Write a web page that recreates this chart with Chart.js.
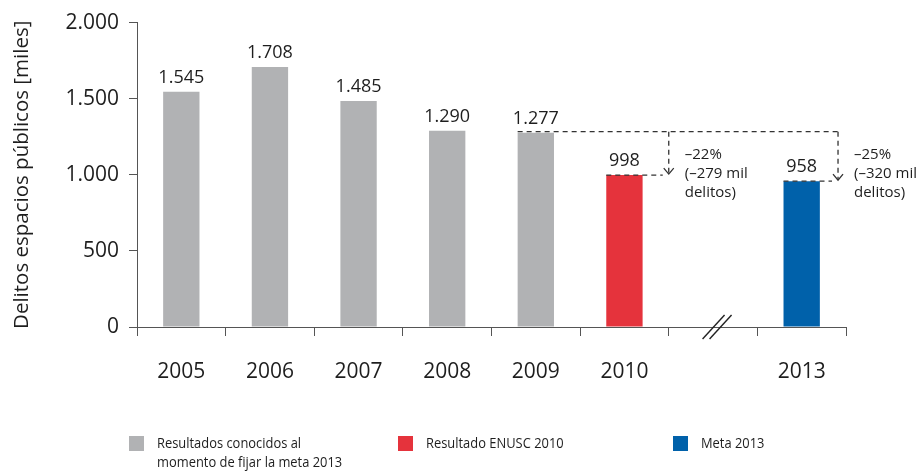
<!DOCTYPE html>
<html>
<head>
<meta charset="utf-8">
<script src="https://cdn.jsdelivr.net/npm/chart.js@4.4.0/dist/chart.umd.min.js"></script>
<style>
    html, body { margin: 0; padding: 0; background: #fff; }
    #wrap { position: relative; width: 921px; height: 471px; }
</style>
</head>
<body>
<div id="wrap"><canvas id="chart" width="921" height="471"></canvas></div>
<script>
const years = ['2005', '2006', '2007', '2008', '2009', '2010', '', '2013'];
const delitos = [1545, 1708, 1485, 1290, 1277, 998, null, 958];
const barGroup = ['known', 'known', 'known', 'known', 'known', 'enusc', null, 'goal'];
const yTicks = [0, 500, 1000, 1500, 2000];

const groupColors = { known: '#b1b2b4', enusc: '#e5333c', goal: '#0061aa' };
const legendItems = [
    { group: 'known', text: ['Resultados conocidos al', 'momento de fijar la meta 2013'] },
    { group: 'enusc', text: ['Resultado ENUSC 2010'] },
    { group: 'goal', text: ['Meta 2013'] }
];
const reductions = [
    { from: 4, to: 5, text: ['\u201322%', '(\u2013279 mil', 'delitos)'] },
    { from: 4, to: 7, text: ['\u201325%', '(\u2013320 mil', 'delitos)'] }
];

const FONT = '"Open Sans", sans-serif';
const TEXT = '#1e1e1e';

function miles(v) {
    return String(v).replace(/\B(?=(\d{3})+(?!\d))/g, '.');
}

// labels over bars, dashed reduction arrows, axis break and legend
const extras = {
    id: 'extras',
    afterDatasetsDraw(chart) {
        const ctx = chart.ctx;
        const x = chart.scales.x;
        const y = chart.scales.y;
        const bars = chart.getDatasetMeta(0).data;
        const catW = x.getPixelForValue(1) - x.getPixelForValue(0);

        ctx.save();
        ctx.fillStyle = TEXT;
        ctx.font = '18px ' + FONT;
        ctx.textAlign = 'center';
        ctx.textBaseline = 'bottom';
        delitos.forEach((v, i) => {
            if (v === null) return;
            ctx.fillText(miles(v), bars[i].x, bars[i].y - 5);
        });

        // dashed arrows
        ctx.strokeStyle = '#333';
        ctx.lineWidth = 1.3;
        ctx.setLineDash([5, 4]);
        const base = bars[4];
        const topY = y.getPixelForValue(delitos[4]) - 1;
        const arrowX = [
            (x.getPixelForValue(5) + x.getPixelForValue(6)) / 2,
            x.getPixelForValue(7) + catW * 0.41
        ];
        ctx.beginPath();
        ctx.moveTo(base.x - base.width / 2, topY);
        ctx.lineTo(arrowX[1], topY);
        ctx.stroke();
        reductions.forEach((r, k) => {
            const b = bars[r.to];
            const ax = arrowX[k];
            const endY = y.getPixelForValue(delitos[r.to]);
            ctx.setLineDash([5, 4]);
            ctx.beginPath();
            ctx.moveTo(ax, topY);
            ctx.lineTo(ax, endY - 2);
            ctx.moveTo(b.x - b.width / 2, endY);
            ctx.lineTo(ax - 6, endY);
            ctx.stroke();
            ctx.setLineDash([]);
            ctx.beginPath();
            ctx.moveTo(ax - 5, endY - 7);
            ctx.lineTo(ax, endY - 1);
            ctx.lineTo(ax + 5, endY - 7);
            ctx.stroke();

            ctx.font = '15px ' + FONT;
            ctx.textAlign = 'left';
            ctx.textBaseline = 'middle';
            r.text.forEach((t, j) => ctx.fillText(t, ax + 16, topY + 23 + j * 19));
        });

        // axis break
        ctx.setLineDash([]);
        ctx.strokeStyle = '#222';
        ctx.lineWidth = 1.4;
        const bx = x.getPixelForValue(6) + 4;
        const by = y.getPixelForValue(0);
        [-3.5, 3.5].forEach(d => {
            ctx.beginPath();
            ctx.moveTo(bx + d - 11, by + 12);
            ctx.lineTo(bx + d + 11, by - 12);
            ctx.stroke();
        });

        // legend
        const legX = [129, 398, 673];
        const legY = 436;
        legendItems.forEach((it, k) => {
            ctx.fillStyle = groupColors[it.group];
            ctx.fillRect(legX[k], legY, 15, 15);
            ctx.fillStyle = TEXT;
            ctx.font = '15px ' + FONT;
            ctx.textAlign = 'left';
            ctx.textBaseline = 'middle';
            it.text.forEach((t, j) => {
                ctx.save();
                ctx.translate(legX[k] + 28, legY + 8 + j * 19);
                ctx.scale(0.86, 1);
                ctx.fillText(t, 0, 0);
                ctx.restore();
            });
        });
        ctx.restore();
    }
};

new Chart(document.getElementById('chart'), {
    type: 'bar',
    data: {
        labels: years,
        datasets: [{
            data: delitos,
            backgroundColor: barGroup.map(g => g ? groupColors[g] : 'transparent'),
            barPercentage: 0.41,
            categoryPercentage: 1
        }]
    },
    options: {
        responsive: false,
        animation: false,
        devicePixelRatio: 1,
        layout: { padding: { top: 10, right: 75, bottom: 0, left: 0 } },
        plugins: {
            legend: { display: false },
            tooltip: { enabled: false }
        },
        scales: {
            x: {
                grid: {
                    offset: true,
                    drawOnChartArea: false,
                    tickLength: 9,
                    color: '#555'
                },
                border: { color: '#555', width: 1 },
                ticks: {
                    padding: 23,
                    maxRotation: 0,
                    color: TEXT,
                    font: { family: FONT, size: 21 }
                },
                afterFit(scale) { scale.height = 144; }
            },
            y: {
                min: 0,
                max: 2000,
                afterBuildTicks(scale) { scale.ticks = yTicks.map(v => ({ value: v })); },
                grid: {
                    drawOnChartArea: false,
                    tickLength: 8,
                    color: '#555'
                },
                border: { color: '#555', width: 1 },
                ticks: {
                    padding: 10,
                    color: TEXT,
                    font: { family: FONT, size: 21 },
                    callback: v => miles(v)
                },
                title: {
                    display: true,
                    text: 'Delitos espacios p\u00fablicos [miles]',
                    color: TEXT,
                    font: { family: FONT, size: 20.5 },
                    padding: { top: 10, bottom: 0 }
                },
                afterFit(scale) { scale.width = 137; }
            }
        }
    },
    plugins: [extras]
});
</script>
</body>
</html>
